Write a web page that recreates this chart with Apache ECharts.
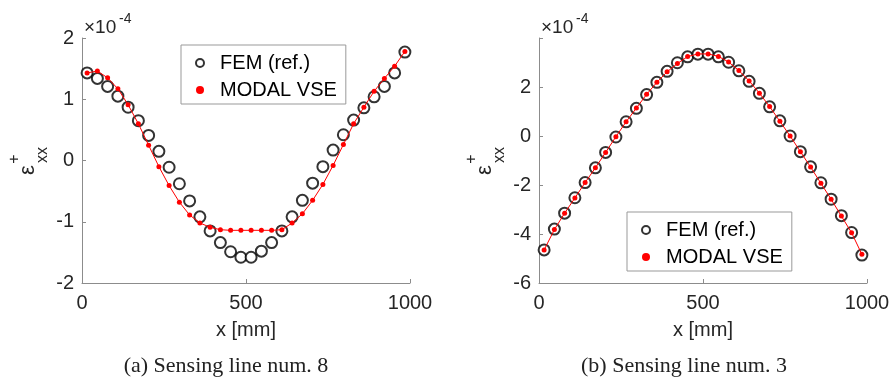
<!DOCTYPE html>
<html>
<head>
<meta charset="utf-8">
<script src="https://cdn.jsdelivr.net/npm/echarts@6.0.0/dist/echarts.min.js"></script>
<style>
  html, body { margin: 0; padding: 0; background: #fff; }
  #main { width: 893px; height: 385px; }
</style>
</head>
<body>
<div id="main"></div>
<script>
// sensor positions along the line [mm]
const X_POS = [15.6, 46.9, 78.1, 109.4, 140.6, 171.9, 203.1, 234.4, 265.6, 296.9, 328.1, 359.4,
    390.6, 421.9, 453.1, 484.4, 515.6, 546.9, 578.1, 609.4, 640.6, 671.9, 703.1, 734.4,
    765.6, 796.9, 828.1, 859.4, 890.6, 921.9, 953.1, 984.4];

// strain values, in units of 1e-4
const FEM_LINE8 = [1.43, 1.34, 1.21, 1.05, 0.87, 0.65, 0.41, 0.15, -0.11, -0.38, -0.66, -0.92,
    -1.15, -1.34, -1.49, -1.58, -1.58, -1.48, -1.34, -1.15, -0.92, -0.65, -0.37, -0.10,
    0.17, 0.42, 0.66, 0.86, 1.04, 1.21, 1.43, 1.77];
const VSE_LINE8 = [1.43, 1.46, 1.35, 1.17, 0.91, 0.60, 0.25, -0.10, -0.41, -0.68, -0.89, -1.02,
    -1.09, -1.13, -1.14, -1.14, -1.14, -1.14, -1.14, -1.13, -1.02, -0.87, -0.65, -0.39,
    -0.08, 0.26, 0.60, 0.87, 1.13, 1.34, 1.54, 1.78];

const FEM_LINE3 = [-4.65, -3.80, -3.15, -2.52, -1.90, -1.30, -0.67, -0.04, 0.58, 1.13, 1.69, 2.19,
    2.64, 2.99, 3.23, 3.34, 3.34, 3.23, 3.01, 2.66, 2.23, 1.74, 1.19, 0.62,
    0.00, -0.64, -1.26, -1.91, -2.58, -3.25, -3.94, -4.86];
const VSE_LINE3 = [-4.65, -3.82, -3.15, -2.53, -1.90, -1.30, -0.67, -0.03, 0.58, 1.14, 1.70, 2.19,
    2.62, 2.96, 3.24, 3.35, 3.35, 3.25, 3.02, 2.67, 2.25, 1.75, 1.20, 0.60,
    0.00, -0.64, -1.27, -1.93, -2.58, -3.27, -3.95, -4.83];

const NAMES = ['FEM (ref.)', 'MODAL VSE'];
const CAPTIONS = ['(a) Sensing line num. 8', '(b) Sensing line num. 3'];
const X_LABEL = 'x [mm]';

const AXIS_COLOR = '#8c8c8c';
const TEXT_COLOR = '#262626';
const FONT = '"Liberation Sans", Arial, sans-serif';
const SERIF = '"Liberation Serif", "DejaVu Serif", serif';

function pairs(xs, ys) {
    return xs.map((x, i) => [x, ys[i]]);
}

function xAxisFor(idx) {
    return {
        type: 'value', gridIndex: idx,
        min: 0, max: 1000, interval: 500,
        name: X_LABEL, nameLocation: 'middle', nameGap: 37,
        nameTextStyle: { fontSize: 20, color: TEXT_COLOR, fontFamily: FONT },
        axisLine: { show: true, onZero: false, lineStyle: { color: AXIS_COLOR, width: 1 } },
        axisTick: { show: true, inside: true, length: 4, lineStyle: { color: AXIS_COLOR } },
        axisLabel: { show: true, fontSize: 20, color: TEXT_COLOR, margin: 10, fontFamily: FONT,
            showMinLabel: true, showMaxLabel: true, formatter: v => String(v) },
        splitLine: { show: false }
    };
}

function yAxisFor(idx, min, max, step, hideAbove) {
    return {
        type: 'value', gridIndex: idx,
        min: min, max: max, interval: step,
        axisLine: { show: true, onZero: false, lineStyle: { color: AXIS_COLOR, width: 1 } },
        axisTick: { show: true, inside: true, length: 4, lineStyle: { color: AXIS_COLOR } },
        axisLabel: {
            show: true, fontSize: 20, color: TEXT_COLOR, margin: 8, fontFamily: FONT,
            showMinLabel: true, showMaxLabel: true,
            formatter: v => (hideAbove != null && v > hideAbove) ? '' : String(v)
        },
        splitLine: { show: false }
    };
}

function femSeries(idx, ys) {
    return {
        name: NAMES[0], type: 'scatter',
        xAxisIndex: idx, yAxisIndex: idx,
        data: pairs(X_POS, ys),
        symbol: 'emptyCircle', symbolSize: 11,
        itemStyle: { color: '#000', borderColor: '#000', borderWidth: 1.6 },
        z: 2
    };
}

function vseSeries(idx, ys) {
    return {
        name: NAMES[1], type: 'line',
        xAxisIndex: idx, yAxisIndex: idx,
        data: pairs(X_POS, ys),
        symbol: 'circle', symbolSize: 5, showSymbol: true,
        itemStyle: { color: '#ff0000' },
        lineStyle: { color: '#ff0000', width: 1 },
        z: 3
    };
}

function legendFor(left, top) {
    return {
        orient: 'vertical', left: left, top: top,
        data: [{ name: NAMES[0], icon: 'emptyCircle' }, { name: NAMES[1], icon: 'circle' }],
        itemWidth: 8, itemHeight: 8, itemGap: 7,
        padding: [8, 9, 4, 14],
        formatter: n => '  ' + n,
        textStyle: { fontSize: 20, color: '#000', fontFamily: FONT },
        backgroundColor: '#fff', borderColor: '#999', borderWidth: 1, borderRadius: 0,
        selectedMode: false
    };
}

// y label eps^+_xx, rotated, and the x10^-4 exponent text
function decorations(dx) {
    const rot = Math.PI / 2;
    return [
        { type: 'text', x: 28 + dx, y: 170, rotation: rot,
          style: { text: 'ε', fontSize: 22, fill: TEXT_COLOR, fontFamily: FONT, align: 'center', verticalAlign: 'middle' } },
        { type: 'text', x: 43 + dx, y: 155, rotation: rot,
          style: { text: 'xx', fontSize: 16, fill: TEXT_COLOR, fontFamily: FONT, align: 'center', verticalAlign: 'middle' } },
        { type: 'text', x: 15 + dx, y: 159, rotation: rot,
          style: { text: '+', fontSize: 16, fill: TEXT_COLOR, fontFamily: FONT, align: 'center', verticalAlign: 'middle' } },
        { type: 'text', x: 84 + dx, y: 28,
          style: { text: '×10', fontSize: 19, fill: TEXT_COLOR, fontFamily: FONT, align: 'left', verticalAlign: 'middle' } },
        { type: 'text', x: 119 + dx, y: 19,
          style: { text: '-4', fontSize: 14, fill: TEXT_COLOR, fontFamily: FONT, align: 'left', verticalAlign: 'middle' } }
    ];
}

const chart = echarts.init(document.getElementById('main'), null, { renderer: 'canvas' });

chart.setOption({
    backgroundColor: '#fff',
    animation: false,
    grid: [
        { left: 82, top: 38, width: 328, height: 245 },
        { left: 539, top: 38, width: 328, height: 245 }
    ],
    xAxis: [xAxisFor(0), xAxisFor(1)],
    yAxis: [yAxisFor(0, -2, 2, 1), yAxisFor(1, -6, 4, 2, 3)],
    legend: [legendFor(181, 45), legendFor(627, 212)],
    series: [
        femSeries(0, FEM_LINE8), vseSeries(0, VSE_LINE8),
        femSeries(1, FEM_LINE3), vseSeries(1, VSE_LINE3)
    ],
    graphic: [
        ...decorations(0),
        ...decorations(457),
        { type: 'text', x: 226, y: 366,
          style: { text: CAPTIONS[0], fontSize: 22, fill: '#222', fontFamily: SERIF, align: 'center', verticalAlign: 'middle' } },
        { type: 'text', x: 684, y: 366,
          style: { text: CAPTIONS[1], fontSize: 22, fill: '#222', fontFamily: SERIF, align: 'center', verticalAlign: 'middle' } }
    ]
});
</script>
</body>
</html>
